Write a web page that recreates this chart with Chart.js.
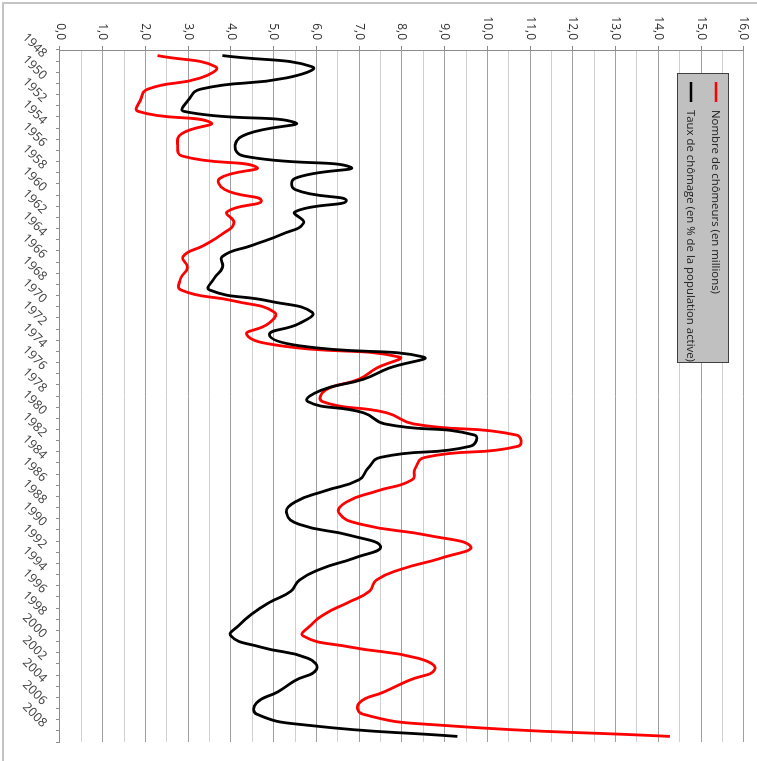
<!DOCTYPE html>
<html lang="fr">
<head>
<meta charset="utf-8">
<title>Chômage 1948-2009</title>
<script src="https://cdn.jsdelivr.net/npm/chart.js@4.4.0/dist/chart.umd.min.js"></script>
<style>
   html, body { margin: 0; padding: 0; background: #fff; overflow: hidden; }
   #frame { position: absolute; left: 2px; top: 2px; width: 800px; height: 800px; border: 2px solid #c4c4c4; }
   /* le graphique est dessiné "à plat" puis tourné de 90° dans le sens horaire */
   #rotated { position: absolute; left: 0; top: 0; width: 761px; height: 757px;
              transform-origin: 0 0; transform: translateX(757px) rotate(90deg); }
</style>
</head>
<body>
<div id="frame"></div>
<div id="rotated"><canvas id="chart" width="761" height="757"></canvas></div>
<script>
/*** REGION 1 - Données */
var gYears = [
   "1948", "1949", "1950", "1951", "1952", "1953", "1954", "1955", "1956", "1957",
   "1958", "1959", "1960", "1961", "1962", "1963", "1964", "1965", "1966", "1967",
   "1968", "1969", "1970", "1971", "1972", "1973", "1974", "1975", "1976", "1977",
   "1978", "1979", "1980", "1981", "1982", "1983", "1984", "1985", "1986", "1987",
   "1988", "1989", "1990", "1991", "1992", "1993", "1994", "1995", "1996", "1997",
   "1998", "1999", "2000", "2001", "2002", "2003", "2004", "2005", "2006", "2007",
   "2008", "2009",
];

// Nombre de chômeurs (en millions)
var gChomeurs = [
   2.28, 3.64, 3.29, 2.06, 1.88, 1.83, 3.53, 2.85, 2.75, 2.86,
   4.60, 3.74, 3.85, 4.71, 3.91, 4.07, 3.79, 3.37, 2.88, 2.98,
   2.82, 2.83, 4.09, 5.02, 4.88, 4.37, 5.16, 7.93, 7.41, 6.99,
   6.20, 6.14, 7.64, 8.27, 10.68, 10.72, 8.54, 8.31, 8.24, 7.43,
   6.70, 6.53, 7.05, 8.63, 9.61, 8.94, 8.00, 7.40, 7.24, 6.74,
   6.21, 5.88, 5.69, 6.80, 8.38, 8.77, 8.15, 7.59, 7.00, 7.08,
   8.92, 14.27,
];

// Taux de chômage (en % de la population active)
var gTaux = [
   3.8, 5.9, 5.3, 3.3, 3.0, 2.9, 5.5, 4.4, 4.1, 4.3,
   6.8, 5.5, 5.5, 6.7, 5.5, 5.7, 5.2, 4.5, 3.8, 3.8,
   3.6, 3.5, 4.9, 5.9, 5.6, 4.9, 5.6, 8.5, 7.7, 7.1,
   6.1, 5.8, 7.1, 7.6, 9.7, 9.6, 7.5, 7.2, 7.0, 6.2,
   5.5, 5.3, 5.6, 6.8, 7.5, 6.9, 6.1, 5.6, 5.4, 4.9,
   4.5, 4.2, 4.0, 4.7, 5.8, 6.0, 5.5, 5.1, 4.6, 4.6,
   5.8, 9.3,
];

var gSeriesNames = ["Nombre de chômeurs (en millions)", "Taux de chômage (en % de la population active)"];
var gSeriesColors = ["#ff0000", "#000000"];

var gFont = "'Open Sans', 'DejaVu Sans', sans-serif";

/*** REGION 2 - Légende dessinée dans la zone du graphique (boîte grise) */
var legendBoxPlugin = {
   id: "legendBox",
   afterDraw: function (chart) {
      var ctx = chart.ctx;
      var vX = 73, vY = 28, vW = 289, vH = 51;
      ctx.save();
      ctx.fillStyle = "#c0c0c0";
      ctx.fillRect(vX, vY, vW, vH);
      ctx.strokeStyle = "#404040";
      ctx.lineWidth = 1;
      ctx.strokeRect(vX + 0.5, vY + 0.5, vW, vH);

      var vRows = [41, 66];
      ctx.font = "11.4px " + gFont;
      ctx.textBaseline = "middle";
      for (var i = 0; i < gSeriesNames.length; i++) {
         ctx.strokeStyle = gSeriesColors[i];
         ctx.lineWidth = 2.5;
         ctx.beginPath();
         ctx.moveTo(82, vRows[i]);
         ctx.lineTo(102, vRows[i]);
         ctx.stroke();
         ctx.fillStyle = "#1a1a1a";
         ctx.fillText(gSeriesNames[i], 110, vRows[i] + 1);
      }
      ctx.restore();
   },
};

/*** REGION 3 - Graphique */
var vCanvas = document.getElementById("chart");
new Chart(vCanvas, {
   type: "line",
   data: {
      labels: gYears,
      datasets: [
         {
            label: gSeriesNames[0],
            data: gChomeurs,
            borderColor: gSeriesColors[0],
            borderWidth: 2.8,
            pointRadius: 0,
            tension: 0.5,
            order: 2,
         },
         {
            label: gSeriesNames[1],
            data: gTaux,
            borderColor: gSeriesColors[1],
            borderWidth: 2.8,
            pointRadius: 0,
            tension: 0.5,
            order: 1,
         },
      ],
   },
   options: {
      responsive: false,
      animation: false,
      devicePixelRatio: 1,
      layout: { padding: { top: 10, right: 19, bottom: 0, left: 0 } },
      plugins: {
         legend: { display: false },
         tooltip: { enabled: false },
      },
      scales: {
         x: {
            type: "category",
            offset: true,
            grid: { offset: true, drawOnChartArea: false, tickLength: 4, tickColor: "#8c8c8c" },
            border: { color: "#8c8c8c" },
            ticks: {
               autoSkip: false,
               minRotation: 45,
               maxRotation: 45,
               padding: 6,
               color: "#404040",
               font: { family: gFont, size: 12.5 },
               callback: function (value, index) {
                  // une année sur deux
                  return index % 2 === 0 ? this.getLabelForValue(value) : "";
               },
            },
            afterFit: function (scale) {
               scale.height = 60;
            },
         },
         y: {
            min: 0,
            max: 16,
            grid: {
               color: function (ctx) {
                  return ctx.tick && Number.isInteger(ctx.tick.value) ? "#a0a0a0" : "#d0d0d0";
               },
               tickColor: function (ctx) {
                  return ctx.tick && Number.isInteger(ctx.tick.value) ? "#8c8c8c" : "rgba(0,0,0,0)";
               },
               tickLength: 4,
            },
            border: { color: "#8c8c8c" },
            ticks: {
               stepSize: 0.5,
               autoSkip: false,
               padding: 6,
               color: "#333333",
               font: { family: gFont, size: 12 },
               callback: function (value) {
                  return Number.isInteger(value) ? value.toFixed(1).replace(".", ",") : "";
               },
            },
            afterFit: function (scale) {
               scale.width = 50;
            },
         },
      },
   },
   plugins: [legendBoxPlugin],
});
</script>
</body>
</html>
